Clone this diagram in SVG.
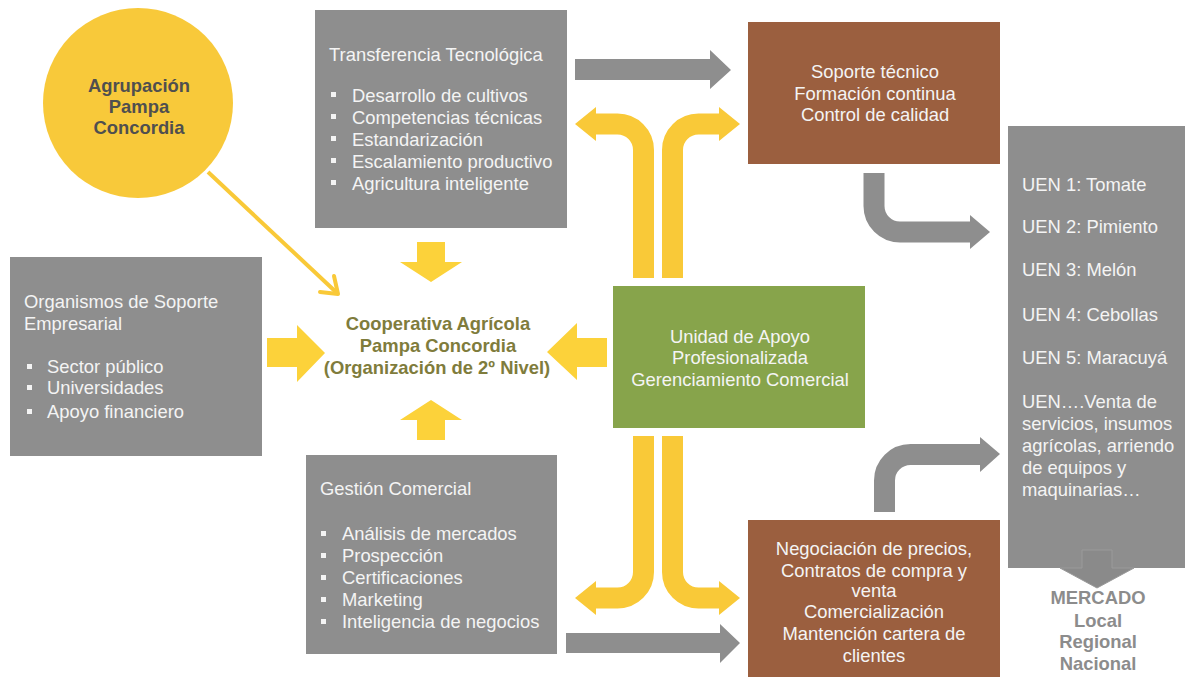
<svg xmlns="http://www.w3.org/2000/svg" width="1185" height="677" viewBox="0 0 1185 677">
<style>
text{font-family:"Liberation Sans",Arial,sans-serif;font-size:18.4px}
.box{fill:#8e8e8e}
.lt{fill:#f4f4f4}
.ctr{text-anchor:middle}
.bul{fill:#f4f4f4}
.brown{fill:#9b5f3f}
.yl{fill:#f9c938}
.yc{fill:#fcd23a}
.ys{fill:none;stroke:#f9c938;stroke-width:21}
.gs{fill:none;stroke:#8e8e8e;stroke-width:21}
.gf{fill:#8e8e8e}
.co{font-weight:bold;fill:#7f7c3c;text-anchor:middle}
</style>
<rect width="1185" height="677" fill="#ffffff"/>

<g id="agrupacion">
<circle cx="138" cy="103" r="95" fill="#f8c93a"/>
<text x="139" y="92" class="ctr" font-weight="bold" fill="#4f4f4f">Agrupación</text>
<text x="139" y="113" class="ctr" font-weight="bold" fill="#4f4f4f">Pampa</text>
<text x="139" y="134" class="ctr" font-weight="bold" fill="#4f4f4f">Concordia</text>
</g>

<g id="transferencia">
<rect x="315" y="10" width="252" height="218" class="box"/>
<text x="329" y="61" class="lt">Transferencia Tecnológica</text>
<rect x="331" y="92" width="5" height="5" class="bul"/>
<rect x="331" y="114" width="5" height="5" class="bul"/>
<rect x="331" y="136" width="5" height="5" class="bul"/>
<rect x="331" y="158" width="5" height="5" class="bul"/>
<rect x="331" y="180" width="5" height="5" class="bul"/>
<text x="352" y="102" class="lt">Desarrollo de cultivos</text>
<text x="352" y="124" class="lt">Competencias técnicas</text>
<text x="352" y="146" class="lt">Estandarización</text>
<text x="352" y="168" class="lt">Escalamiento productivo</text>
<text x="352" y="190" class="lt">Agricultura inteligente</text>
</g>

<g id="organismos">
<rect x="10" y="257" width="252" height="199" class="box"/>
<text x="24" y="308" class="lt">Organismos de Soporte</text>
<text x="24" y="330" class="lt">Empresarial</text>
<rect x="27" y="364" width="5" height="5" class="bul"/>
<rect x="27" y="385" width="5" height="5" class="bul"/>
<rect x="27" y="409" width="5" height="5" class="bul"/>
<text x="47" y="373" class="lt">Sector público</text>
<text x="47" y="394" class="lt">Universidades</text>
<text x="47" y="418" class="lt">Apoyo financiero</text>
</g>

<g id="gestion">
<rect x="306" y="455" width="251" height="199" class="box"/>
<text x="320" y="495" class="lt">Gestión Comercial</text>
<rect x="321" y="531" width="5" height="5" class="bul"/>
<rect x="321" y="553" width="5" height="5" class="bul"/>
<rect x="321" y="575" width="5" height="5" class="bul"/>
<rect x="321" y="597" width="5" height="5" class="bul"/>
<rect x="321" y="619" width="5" height="5" class="bul"/>
<text x="342" y="540" class="lt">Análisis de mercados</text>
<text x="342" y="562" class="lt">Prospección</text>
<text x="342" y="584" class="lt">Certificaciones</text>
<text x="342" y="606" class="lt">Marketing</text>
<text x="342" y="628" class="lt">Inteligencia de negocios</text>
</g>

<g id="cooperativa">
<text x="438" y="330" class="co">Cooperativa Agrícola</text>
<text x="438" y="352" class="co">Pampa Concordia</text>
<text x="437" y="374" class="co">(Organización de 2º Nivel)</text>
</g>

<g id="unidad">
<rect x="613" y="286" width="252" height="142" fill="#87a44b"/>
<text x="740" y="343" class="lt ctr">Unidad de Apoyo</text>
<text x="740" y="364" class="lt ctr">Profesionalizada</text>
<text x="740" y="386" class="lt ctr">Gerenciamiento Comercial</text>
</g>

<g id="soporte">
<rect x="748" y="22" width="252" height="142" class="brown"/>
<text x="875" y="78" class="lt ctr">Soporte técnico</text>
<text x="875" y="100" class="lt ctr">Formación continua</text>
<text x="875" y="121" class="lt ctr">Control de calidad</text>
</g>

<g id="negociacion">
<rect x="748" y="520" width="252" height="157" class="brown"/>
<text x="874" y="555" class="lt ctr">Negociación de precios,</text>
<text x="874" y="577" class="lt ctr">Contratos de compra y</text>
<text x="874" y="597" class="lt ctr">venta</text>
<text x="874" y="618" class="lt ctr">Comercialización</text>
<text x="874" y="640" class="lt ctr">Mantención cartera de</text>
<text x="874" y="662" class="lt ctr">clientes</text>
</g>

<g id="uen">
<rect x="1008" y="126" width="177" height="442" class="box"/>
<text x="1022" y="191" class="lt">UEN 1: Tomate</text>
<text x="1022" y="233" class="lt">UEN 2: Pimiento</text>
<text x="1022" y="276" class="lt">UEN 3: Melón</text>
<text x="1022" y="321" class="lt">UEN 4: Cebollas</text>
<text x="1022" y="364" class="lt">UEN 5: Maracuyá</text>
<text x="1022" y="408" class="lt">UEN….Venta de</text>
<text x="1022" y="430" class="lt">servicios, insumos</text>
<text x="1022" y="452" class="lt">agrícolas, arriendo</text>
<text x="1022" y="474" class="lt">de equipos y</text>
<text x="1022" y="496" class="lt">maquinarias…</text>
</g>

<g id="mercado">
<text x="1098" y="604" class="ctr" font-weight="bold" fill="#8c8c8c">MERCADO</text>
<text x="1098" y="627" class="ctr" font-weight="bold" fill="#8c8c8c">Local</text>
<text x="1098" y="648" class="ctr" font-weight="bold" fill="#8c8c8c">Regional</text>
<text x="1098" y="670" class="ctr" font-weight="bold" fill="#8c8c8c">Nacional</text>
</g>

<g id="connectors">
<path d="M208 172 L337 293" fill="none" stroke="#f9c938" stroke-width="4"/>
<path d="M320 292 L338 294 L334 276" fill="none" stroke="#f9c938" stroke-width="4" stroke-linecap="round" stroke-linejoin="round"/>

<polygon class="yc" points="417,242 445,242 445,262 462,262 431,282 400,262 417,262"/>
<polygon class="yc" points="417,440 445,440 445,420 462,420 431,400 400,420 417,420"/>
<polygon class="yc" points="267,338 297,338 297,325 325,353 297,382 297,367 267,367"/>
<polygon class="yc" points="607,338 577,338 577,323 547,352 577,380 577,367 607,367"/>

<path class="ys" d="M643.5 278 V150 A26 26 0 0 0 617.5 124 H596"/>
<polygon class="yl" points="596,107 575,124 596,141"/>
<path class="ys" d="M672.5 278 V150 A26 26 0 0 1 698.5 124 H720"/>
<polygon class="yl" points="719,107 740,124 719,141"/>

<path class="ys" d="M643.5 436 V572 A26 26 0 0 1 617.5 598 H596"/>
<polygon class="yl" points="596,581 575,598 596,615"/>
<path class="ys" d="M672.5 436 V572 A26 26 0 0 0 698.5 598 H720"/>
<polygon class="yl" points="719,581 740,598 719,615"/>

<polygon class="gf" points="575,59 710,59 710,50 731,70 710,89 710,80 575,80"/>
<polygon class="gf" points="566,633 720,633 720,624 740,643 720,663 720,653 566,653"/>

<path class="gs" d="M874 173 V206 A26 26 0 0 0 900 232 H971"/>
<polygon class="gf" points="970,215 990,232 970,249"/>
<path class="gs" d="M884.5 512 V480.5 A26 26 0 0 1 910.5 454.5 H981"/>
<polygon class="gf" points="980,437 1000,454 980,472"/>

<polygon fill="#8a8a8a" stroke="#9a9a9a" stroke-width="1" points="1082,550 1112,550 1112,568 1134,568 1097,588 1060,568 1082,568"/>
</g>
</svg>
